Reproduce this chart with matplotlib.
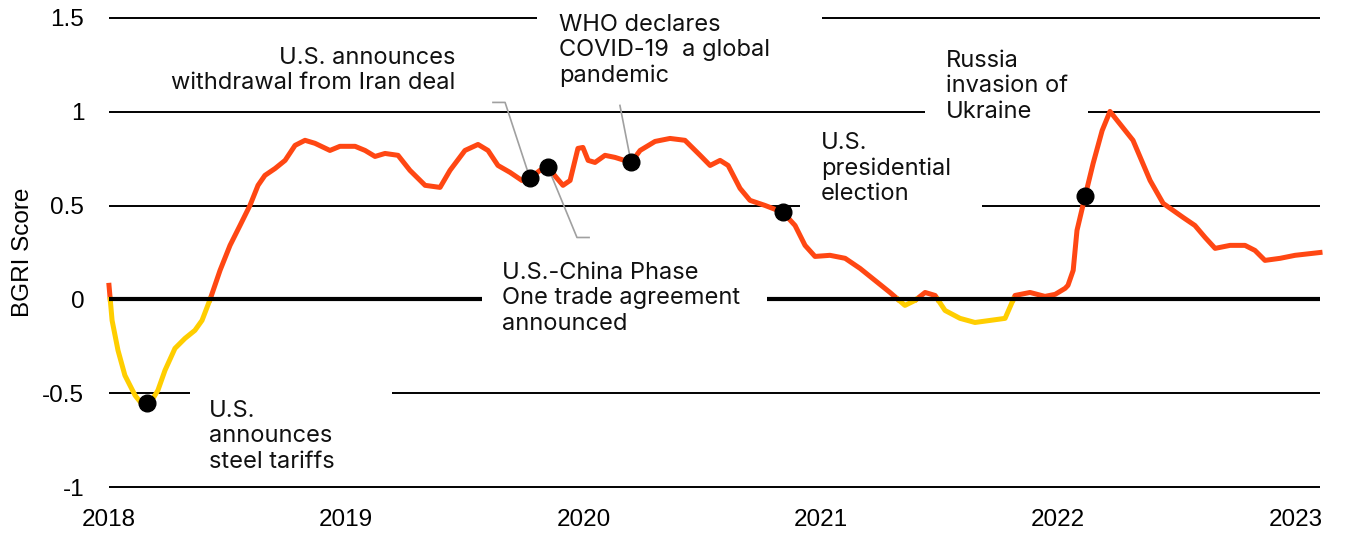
import numpy as np
import matplotlib
matplotlib.use('Agg')
import matplotlib.pyplot as plt

# BGRI score (decimal year, score)
dates = [2018.000, 2018.013, 2018.038, 2018.067, 2018.110, 2018.143, 2018.173, 2018.206,
         2018.236, 2018.278, 2018.320, 2018.362, 2018.392, 2018.426, 2018.468, 2018.510,
         2018.552, 2018.594, 2018.628, 2018.657, 2018.700, 2018.742, 2018.784, 2018.826,
         2018.868, 2018.931, 2018.973, 2019.037, 2019.079, 2019.121, 2019.163, 2019.218,
         2019.268, 2019.332, 2019.395, 2019.437, 2019.500, 2019.555, 2019.597, 2019.639,
         2019.690, 2019.740, 2019.774, 2019.816, 2019.850, 2019.888, 2019.913, 2019.943,
         2019.976, 2019.997, 2020.019, 2020.048, 2020.090, 2020.132, 2020.200, 2020.238,
         2020.301, 2020.364, 2020.427, 2020.491, 2020.533, 2020.575, 2020.609, 2020.659,
         2020.701, 2020.764, 2020.840, 2020.891, 2020.933, 2020.975, 2021.038, 2021.102,
         2021.165, 2021.228, 2021.291, 2021.354, 2021.397, 2021.439, 2021.481, 2021.523,
         2021.586, 2021.649, 2021.713, 2021.776, 2021.818, 2021.881, 2021.944, 2021.987,
         2022.029, 2022.041, 2022.063, 2022.079, 2022.113, 2022.147, 2022.185, 2022.218,
         2022.315, 2022.387, 2022.442, 2022.526, 2022.576, 2022.619, 2022.661, 2022.724,
         2022.787, 2022.829, 2022.871, 2022.935, 2022.998, 2023.103]
scores = [0.075, -0.112, -0.272, -0.405, -0.512, -0.565, -0.554, -0.485,
          -0.378, -0.261, -0.208, -0.165, -0.112, 0.000, 0.155, 0.288,
          0.394, 0.501, 0.608, 0.661, 0.698, 0.741, 0.821, 0.848,
          0.832, 0.794, 0.816, 0.816, 0.794, 0.762, 0.778, 0.768,
          0.688, 0.608, 0.597, 0.688, 0.794, 0.826, 0.794, 0.714,
          0.677, 0.634, 0.645, 0.688, 0.704, 0.645, 0.608, 0.634,
          0.805, 0.810, 0.741, 0.730, 0.768, 0.757, 0.730, 0.794,
          0.842, 0.858, 0.848, 0.768, 0.714, 0.741, 0.714, 0.592,
          0.528, 0.501, 0.464, 0.394, 0.288, 0.229, 0.235, 0.219,
          0.165, 0.101, 0.037, -0.032, -0.005, 0.037, 0.021, -0.059,
          -0.101, -0.123, -0.112, -0.101, 0.021, 0.037, 0.016, 0.027,
          0.059, 0.075, 0.155, 0.368, 0.549, 0.725, 0.900, 1.002,
          0.848, 0.634, 0.512, 0.437, 0.394, 0.330, 0.272, 0.288,
          0.288, 0.261, 0.208, 0.219, 0.235, 0.250]

# events marked with dots
event_dates = [2018.160, 2019.774, 2019.850, 2020.200, 2020.840, 2022.113]
event_scores = [-0.554, 0.645, 0.704, 0.730, 0.464, 0.549]

y_ticks = [-1, -0.5, 0, 0.5, 1, 1.5]
y_labels = ['-1', '-0.5', '0', '0.5', '1', '1.5']
years = [2018, 2019, 2020, 2021, 2022, 2023]

RED = '#FF4713'
YELLOW = '#FFCE00'
GREY = '#A0A0A0'
X_END = 2023.103

# add zero crossings so the two colours meet at 0
x = np.array(dates)
y = np.array(scores)
xs, ys = [x[0]], [y[0]]
for i in range(1, len(x)):
    if y[i - 1] * y[i] < 0:
        t = y[i - 1] / (y[i - 1] - y[i])
        xs.append(x[i - 1] + t * (x[i] - x[i - 1]))
        ys.append(0.0)
    xs.append(x[i])
    ys.append(y[i])
xs = np.array(xs)
ys = np.array(ys)
above = np.ma.masked_where(ys < 0, ys)
below = np.ma.masked_where(ys > 0, ys)

fig = plt.figure(figsize=(13.46, 5.34), dpi=100)
ax = fig.add_axes([105 / 1346, 39 / 534, 1220 / 1346, 485 / 534])
ax.set_xlim(2018 - 4 / 237.3, X_END + 5 / 237.3)
ax.set_ylim(-1 - 8 / 187.6, 1.5 + 8 / 187.6)

# gridlines, broken where the notes sit
grid_segments = {
    1.5: [(2018, 2019.804), (2021.005, X_END)],
    1.0: [(2018, 2021.439), (2022.126, X_END)],
    0.5: [(2018, 2020.912), (2021.679, X_END)],
    -0.5: [(2018, 2018.341), (2019.193, X_END)],
    -1.0: [(2018, X_END)],
}
for level, segs in grid_segments.items():
    for a, b in segs:
        ax.plot([a, b], [level, level], color='black', lw=1.4, zorder=1,
                solid_capstyle='butt')

ax.plot(xs, above, color=RED, lw=3.6, zorder=2)
ax.plot(xs, below, color=YELLOW, lw=3.6, zorder=2)

for a, b in [(2018, 2019.572), (2020.773, X_END)]:
    ax.plot([a, b], [0, 0], color='black', lw=3, zorder=3, solid_capstyle='butt')

# leader lines
ax.plot([2019.618, 2019.669, event_dates[1]], [1.050, 1.050, event_scores[1]],
        color=GREY, lw=1.2, zorder=3)
ax.plot([event_dates[2], 2019.972, 2020.023], [event_scores[2], 0.330, 0.330],
        color=GREY, lw=1.2, zorder=3)
ax.plot([2020.153, event_dates[3]], [1.034, event_scores[3]],
        color=GREY, lw=1.2, zorder=3)

ax.plot(event_dates, event_scores, 'o', color='black', ms=12, zorder=4)

note_font = dict(fontsize=17, family='Inter', color='#111111', linespacing=1.2,
                 va='center')
ax.text(2019.458, 1.221, 'U.S. announces\nwithdrawal from Iran deal',
        ha='right', multialignment='right', **note_font)
ax.text(2019.896, 1.327, 'WHO declares\nCOVID-19  a global\npandemic',
        ha='left', **note_font)
ax.text(2021.527, 1.135, 'Russia\ninvasion of\nUkraine', ha='left', **note_font)
ax.text(2021.000, 0.698, 'U.S.\npresidential\nelection', ha='left', **note_font)
ax.text(2019.656, 0.005, 'U.S.-China Phase\nOne trade agreement\nannounced',
        ha='left', **note_font)
ax.text(2018.421, -0.730, 'U.S.\nannounces\nsteel tariffs', ha='left', **note_font)

ax.set_yticks(y_ticks)
ax.set_yticklabels(y_labels)
ax.set_xticks(years)
ax.set_xticklabels([str(v) for v in years])
ax.tick_params(length=0, labelsize=17.5)
ax.tick_params(axis='x', pad=10)
ax.tick_params(axis='y', pad=15)
for lab in ax.get_xticklabels() + ax.get_yticklabels():
    lab.set_family('Liberation Sans')
ax.set_ylabel('BGRI Score', fontsize=17.5, family='Liberation Sans', labelpad=6)
for s in ax.spines.values():
    s.set_visible(False)

fig.savefig('out.png', dpi=100)
